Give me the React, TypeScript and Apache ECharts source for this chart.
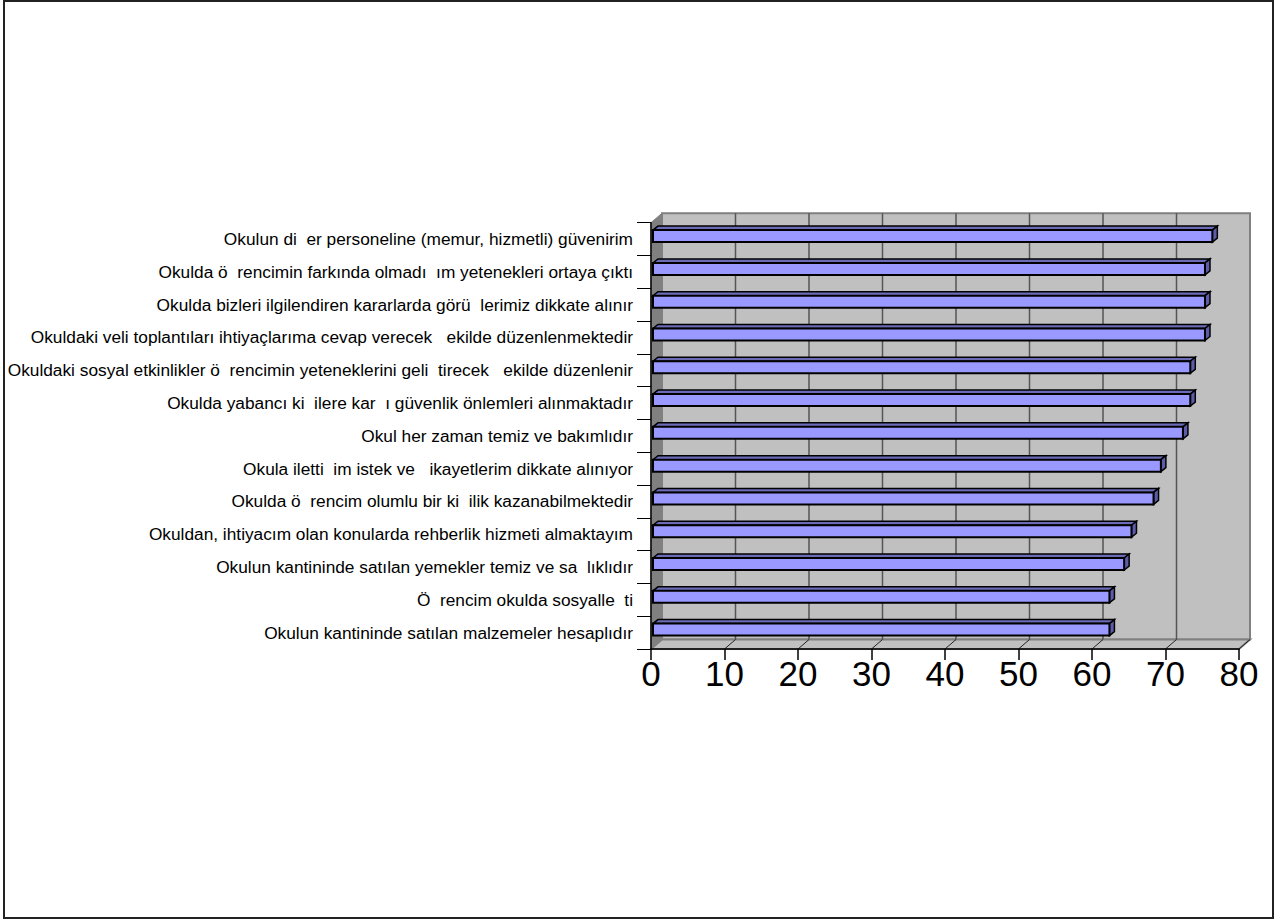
import React, { useEffect, useRef } from "react";
import * as echarts from "echarts";

// Categories listed top to bottom as in the picture
const categories: string[] = [
  "Okulun di  er personeline (memur, hizmetli) güvenirim",
  "Okulda ö  rencimin farkında olmadı  ım yetenekleri ortaya çıktı",
  "Okulda bizleri ilgilendiren kararlarda görü  lerimiz dikkate alınır",
  "Okuldaki veli toplantıları ihtiyaçlarıma cevap verecek   ekilde düzenlenmektedir",
  "Okuldaki sosyal etkinlikler ö  rencimin yeteneklerini geli  tirecek   ekilde düzenlenir",
  "Okulda yabancı ki  ilere kar  ı güvenlik önlemleri alınmaktadır",
  "Okul her zaman temiz ve bakımlıdır",
  "Okula iletti  im istek ve   ikayetlerim dikkate alınıyor",
  "Okulda ö  rencim olumlu bir ki  ilik kazanabilmektedir",
  "Okuldan, ihtiyacım olan konularda rehberlik hizmeti almaktayım",
  "Okulun kantininde satılan yemekler temiz ve sa  lıklıdır",
  "Ö  rencim okulda sosyalle  ti",
  "Okulun kantininde satılan malzemeler hesaplıdır",
];

const values: number[] = [76.1, 75.1, 75.1, 75.1, 73.1, 73.1, 72.1, 69.1, 68.1, 65.1, 64.1, 62.1, 62.1];

const xTicks: number[] = [0, 10, 20, 30, 40, 50, 60, 70, 80];

const DX = 11; // wall depth offset
const DY = -9.5;

function renderWalls(params: any, api: any) {
  const cs = params.coordSys;
  const x = cs.x, y = cs.y, w = cs.width, h = cs.height;
  const yb = y + h;
  const children: any[] = [];
  children.push({
    type: "rect",
    shape: { x: x + DX, y: y + DY, width: w, height: h },
    style: { fill: "#C0C0C0", stroke: "#808080", lineWidth: 2 },
  });
  children.push({
    type: "polygon",
    shape: { points: [[x, y], [x + DX, y + DY], [x + DX, yb + DY], [x, yb]] },
    style: { fill: "#808080", stroke: "#808080", lineWidth: 1 },
  });
  children.push({
    type: "polygon",
    shape: { points: [[x, yb], [x + w, yb], [x + w + DX, yb + DY], [x + DX, yb + DY]] },
    style: { fill: "#C0C0C0", stroke: "#808080", lineWidth: 2 },
  });
  xTicks.forEach((t) => {
    const px = api.coord([t, 0])[0];
    if (t > xTicks[0] && t < xTicks[xTicks.length - 1]) {
      children.push({
        type: "line",
        shape: { x1: px + DX, y1: y + DY, x2: px + DX, y2: yb + DY },
        style: { stroke: "#555555", lineWidth: 1.5 },
      });
    }
    children.push({
      type: "line",
      shape: { x1: px, y1: yb, x2: px + DX, y2: yb + DY },
      style: { stroke: t === xTicks[0] ? "#808080" : "#222222", lineWidth: 1 },
    });
  });
  return { type: "group", children };
}

function renderBar(params: any, api: any) {
  const v = api.value(0);
  const idx = api.value(1);
  const origin = api.coord([0, idx]);
  const end = api.coord([v, idx]);
  const ox = 2, oy = -3, h = 12, dx = 5, dy = -4;
  const x0 = origin[0] + ox;
  const x1 = end[0] + ox;
  const yc = origin[1] + oy;
  const yt = yc - h / 2;
  const yb = yc + h / 2;
  return {
    type: "group",
    children: [
      {
        type: "polygon",
        shape: { points: [[x0, yt], [x1, yt], [x1 + dx, yt + dy], [x0 + dx, yt + dy]] },
        style: { fill: "#6B6BB8", stroke: "#000", lineWidth: 1.5 },
      },
      {
        type: "polygon",
        shape: { points: [[x1, yt], [x1 + dx, yt + dy], [x1 + dx, yb + dy], [x1, yb]] },
        style: { fill: "#5C5CA8", stroke: "#000", lineWidth: 1.5 },
      },
      {
        type: "rect",
        shape: { x: x0, y: yt, width: x1 - x0, height: h },
        style: { fill: "#9999FF", stroke: "#000", lineWidth: 2 },
      },
    ],
  };
}

export default function App() {
  const ref = useRef<HTMLDivElement>(null);
  useEffect(() => {
    if (!ref.current) return;
    const chart = echarts.init(ref.current, null, { renderer: "svg" });
    chart.setOption({
      animation: false,
      backgroundColor: "#FFFFFF",
      textStyle: { fontFamily: "Liberation Sans, Arial, sans-serif" },
      graphic: [
        {
          type: "rect",
          shape: { x: 4, y: 1, width: 1269, height: 917 },
          style: { fill: "none", stroke: "#222222", lineWidth: 2 },
          z: 100,
        },
      ],
      grid: { left: 651, top: 222.7, width: 588, height: 426.3, containLabel: false },
      xAxis: {
        type: "value",
        min: 0,
        max: 80,
        interval: 10,
        splitLine: { show: false },
        axisLine: { show: true, lineStyle: { color: "#000", width: 1.5 } },
        axisTick: { show: true, length: 11, lineStyle: { color: "#000", width: 1.5 } },
        axisLabel: {
          color: "#000",
          fontSize: 35,
          margin: 7,
          fontFamily: "Liberation Sans, Arial, sans-serif",
          formatter: (v: number) => String(v),
        },
        z: 5,
      },
      yAxis: {
        type: "category",
        inverse: true,
        data: categories,
        axisLine: { show: true, lineStyle: { color: "#000", width: 1.5 } },
        axisTick: { show: true, length: 14, lineStyle: { color: "#000", width: 1 } },
        axisLabel: {
          color: "#000",
          fontSize: 17.3,
          margin: 18,
          fontFamily: "Liberation Sans, Arial, sans-serif",
        },
        splitLine: { show: false },
        z: 5,
      },
      series: [
        {
          type: "custom",
          name: "walls",
          renderItem: renderWalls,
          data: [[0, 0]],
          encode: { x: 0, y: 1 },
          z: 1,
          silent: true,
        },
        {
          type: "custom",
          name: "values",
          renderItem: renderBar,
          data: values.map((v, i) => [v, i]),
          encode: { x: 0, y: 1 },
          z: 3,
        },
      ],
    });
    return () => chart.dispose();
  }, []);
  return (
    <div
      ref={ref}
      style={{ position: "fixed", left: 0, top: 0, width: 1275, height: 919 }}
    />
  );
}
